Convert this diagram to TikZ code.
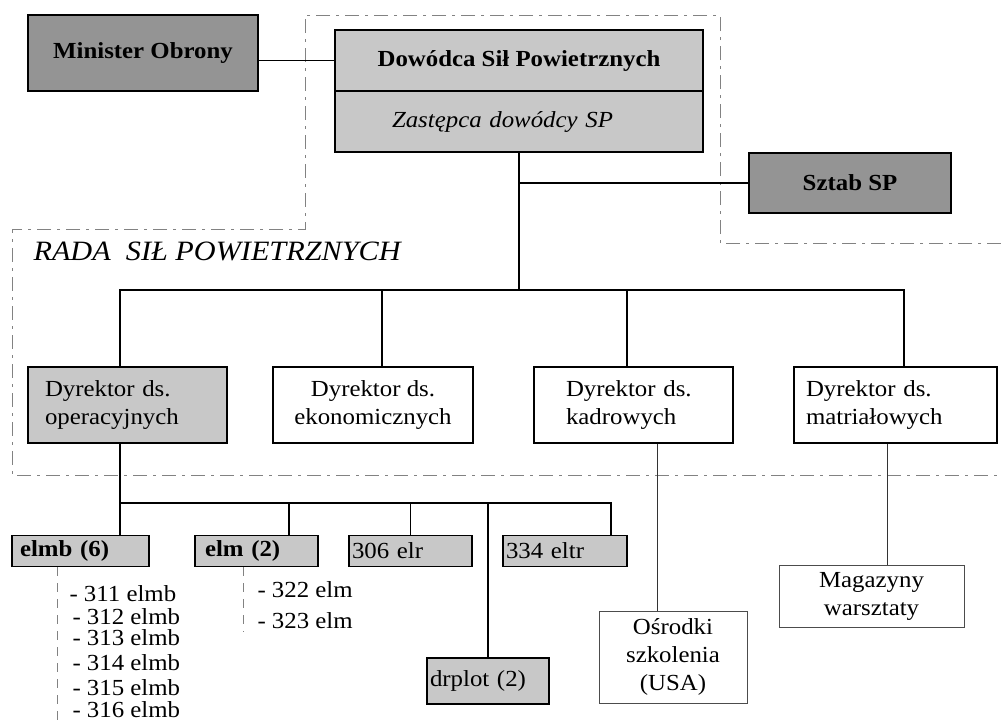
\documentclass[tikz,border=0pt]{standalone}
\usepackage{fontspec}
\setmainfont[FakeStretch=1.08]{Liberation Serif}
\usetikzlibrary{positioning}
\definecolor{ciemny}{RGB}{148,148,148}
\definecolor{jasny}{RGB}{200,200,200}
\definecolor{ramka}{RGB}{130,130,130}

\begin{document}
\begin{tikzpicture}[x=1pt, y=-1pt, font=\fontsize{23}{28}\selectfont,
    blok/.style={draw, line width=1.4pt, inner sep=0pt, align=center},
    jednostka/.style={draw, line width=1.4pt, fill=jasny, inner xsep=3pt, inner ysep=0pt, align=left, minimum height=31pt},
    cienki/.style={draw=black!70, line width=0.6pt, inner sep=0pt, align=center},
    polacz/.style={line width=1.4pt},
    polacz2/.style={line width=0.7pt, black!80},
    rama/.style={ramka, line width=0.8pt, dash pattern=on 14pt off 6pt on 3pt off 6pt}]
  \useasboundingbox (0,0) rectangle (1001,721);
  \draw[rama] (1001,243) -- (720,243) -- (720,15) -- (305,15) -- (305,229)
    -- (12,229) -- (12,475) -- (1001,475);
  \node[font=\fontsize{28}{30}\selectfont\itshape, anchor=base west] (rada) at (30,260) {RADA\ \ SIŁ POWIETRZNYCH};

  \node[blok, fill=ciemny, minimum width=230pt, minimum height=76pt, font=\fontsize{23}{28}\selectfont\bfseries] (minister) at (143,53) {Minister Obrony};
  \node[blok, fill=jasny, minimum width=368pt, minimum height=61pt, font=\fontsize{23}{28}\selectfont\bfseries] (dowodca) at (519,60.5) {Dowódca Sił Powietrznych};
  \node[blok, fill=jasny, minimum height=61pt, align=left, text width=254pt, inner xsep=57pt, font=\fontsize{23}{28}\selectfont\itshape] (zastepca) at (519,121.5) {Zastępca dowódcy SP};
  \node[blok, fill=ciemny, minimum width=202pt, minimum height=60pt, font=\fontsize{23}{28}\selectfont\bfseries] (sztab) at (850,183) {Sztab SP};

  \node[blok, fill=jasny, minimum height=76pt, align=left, text width=165pt, inner xsep=17pt] (dirop) at (127.5,405) {Dyrektor ds.\\operacyjnych};
  \node[blok, minimum width=200pt, minimum height=76pt] (direk) at (373,405) {Dyrektor ds.\\ekonomicznych};
  \node[blok, minimum height=76pt, align=left, text width=135pt, inner xsep=32pt] (dirkad) at (633.5,405) {Dyrektor ds.\\kadrowych};
  \node[blok, minimum height=76pt, align=left, text width=179pt, inner xsep=12pt] (dirmat) at (895.5,405) {Dyrektor ds.\\matriałowych};

  \node[jednostka, text width=121pt, inner xsep=8pt, font=\fontsize{23}{28}\selectfont\bfseries] (elmb) at (80.5,551) {elmb (6)};
  \node[jednostka, text width=103pt, inner xsep=10pt, font=\fontsize{23}{28}\selectfont\bfseries] (elm) at (256.5,551) {elm (2)};
  \node[jednostka, text width=117pt] (elr) at (410.5,551) {306 elr};
  \node[jednostka, text width=118pt] (eltr) at (565,551) {334 eltr};
  \node[jednostka, text width=116pt, minimum height=46pt] (drplot) at (488,681) {drplot (2)};

  \node[cienki, minimum width=148pt, minimum height=92pt] (osrodki) at (673,657) {Ośrodki\\szkolenia\\(USA)};
  \node[cienki, minimum width=185pt, minimum height=62pt] (magazyny) at (871.5,596) {Magazyny\\warsztaty};

  \node[anchor=base west] (e311) at (66,601) {- 311 elmb};
  \node[anchor=base west] (e312) at (69,624) {- 312 elmb};
  \node[anchor=base west] (e313) at (69,645) {- 313 elmb};
  \node[anchor=base west] (e314) at (69,670) {- 314 elmb};
  \node[anchor=base west] (e315) at (69,695) {- 315 elmb};
  \node[anchor=base west] (e316) at (69,717) {- 316 elmb};
  \node[anchor=base west] (e322) at (254,597) {- 322 elm};
  \node[anchor=base west] (e323) at (254,628) {- 323 elm};
  \draw[ramka, line width=0.8pt, dash pattern=on 9pt off 7pt] ([xshift=-23.5pt]elmb.south) -- ([xshift=-23.5pt]elmb.south |- e316.south);
  \draw[ramka, line width=0.8pt, dash pattern=on 9pt off 7pt] ([xshift=-13.5pt]elm.south) -- ([xshift=-13.5pt]elm.south |- e323.south);

  \coordinate (szyna) at (0,290);
  \coordinate (szyna2) at (0,503);
  \draw[polacz] (minister.east |- dowodca.west) -- (dowodca.west);
  \draw[polacz] (zastepca.south) -- (zastepca.south |- szyna);
  \draw[polacz] (zastepca.south |- sztab.west) -- (sztab.west);
  \draw[polacz] ([xshift=-7.5pt]dirop.north) |- ([xshift=8.5pt]dirmat.north |- szyna) -- ([xshift=8.5pt]dirmat.north);
  \draw[polacz] ([xshift=9pt]direk.north) -- ([xshift=9pt]direk.north |- szyna);
  \draw[polacz] ([xshift=-6.5pt]dirkad.north) -- ([xshift=-6.5pt]dirkad.north |- szyna);

  \draw[polacz] ([xshift=-7.5pt]dirop.south) -- ([xshift=39.5pt]elmb.north);
  \draw[polacz] ([xshift=-7.5pt]dirop.south |- szyna2) -| ([xshift=46pt]eltr.north);
  \draw[polacz] ([xshift=32.5pt]elm.north) -- ([xshift=32.5pt]elm.north |- szyna2);
  \draw[polacz] (elr.north) -- (elr.north |- szyna2);
  \draw[polacz] (drplot.north) -- (drplot.north |- szyna2);

  \draw[polacz2] ([xshift=23.5pt]dirkad.south) -- ([xshift=-16pt]osrodki.north);
  \draw[polacz2] ([xshift=-8.5pt]dirmat.south) -- ([xshift=15.5pt]magazyny.north);
\end{tikzpicture}
\end{document}
